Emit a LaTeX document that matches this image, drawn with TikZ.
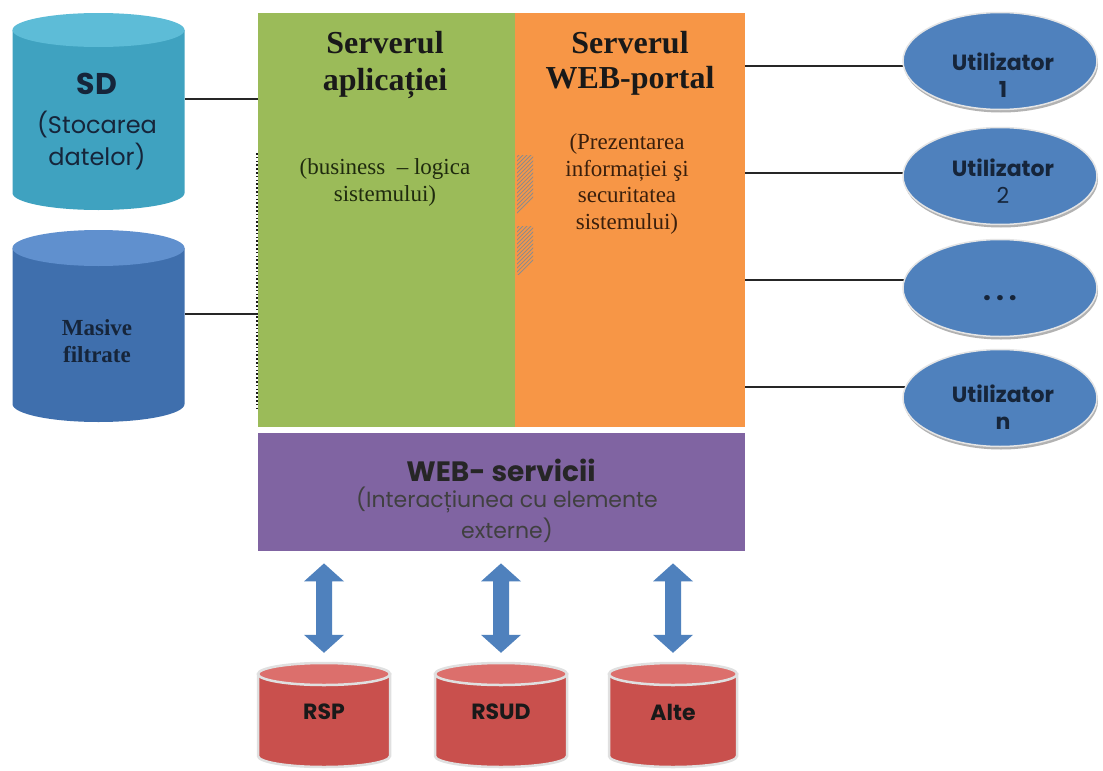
\documentclass[tikz,border=0pt]{standalone}
\usepackage{fontspec}
\setmainfont{Liberation Serif}
\newfontfamily\gothic{Poppins}
\usetikzlibrary{calc,fit,shapes.geometric,shadows}
\definecolor{appgreen}{HTML}{9BBB59}
\definecolor{weborange}{HTML}{F79646}
\definecolor{wspurple}{HTML}{8064A2}
\definecolor{ublue}{HTML}{4F81BD}
\definecolor{sdbody}{HTML}{3FA2C0}
\definecolor{sdtop}{HTML}{5DBCD7}
\definecolor{mfbody}{HTML}{3F6FAD}
\definecolor{mftop}{HTML}{6090CE}
\definecolor{redbody}{HTML}{C9504D}
\definecolor{redtop}{HTML}{DC6F6C}
\definecolor{navy}{HTML}{16253A}
\definecolor{brownt}{HTML}{3A1F0C}
\definecolor{olivet}{HTML}{1F2A0E}
\pgfdeclarelayer{bg}
\pgfdeclarelayer{wires}
\pgfsetlayers{bg,wires,main}
\newcommand{\dbcyl}[9]{%
  \path[fill=#7,#9] (#2-#5,#3) -- (#2-#5,#4) arc[start angle=180,end angle=360,x radius=#5,y radius=#6] -- (#2+#5,#3) -- cycle;
  \path[fill=#8,#9] (#2,#3) ellipse[x radius=#5,y radius=#6];
  \node[inner sep=0pt,fit={(#2-#5,#3+#6) (#2+#5,#4-#6)}] (#1) {};
}
\newcommand{\twoway}[2]{%
  \fill[ublue] let \p1=($(#1.south -| #2.north)+(0,-12)$), \p2=($(#2.north)+(0,10)$) in
    (\x1,\y1) -- ++(20,-18) -- ++(-12,0) -- (\x1+8,\y2+18) -- ++(12,0) -- (\x2,\y2)
    -- ++(-20,18) -- ++(12,0) -- (\x1-8,\y1-18) -- ++(-12,0) -- cycle;
}
\tikzset{
  panel/.style={rectangle, inner sep=0pt, anchor=north west},
  wire/.style={draw=black!85, line width=1.2pt},
  hatchline/.style={draw=black!45, line width=0.9pt},
  user/.style={ellipse, fill=ublue, draw=white!90!black, line width=1.5pt,
    minimum width=194pt, minimum height=97pt, inner sep=0pt,
    drop shadow={shadow xshift=1pt, shadow yshift=-3pt, fill=black!30, opacity=1}},
  sertitle/.style={font=\fontsize{32}{37}\selectfont\bfseries, align=center, inner sep=0pt},
  sersub/.style={font=\fontsize{23}{27}\selectfont, align=center, inner sep=0pt},
  gbold/.style={font=\gothic\fontsize{22}{27}\selectfont\bfseries, text=navy, align=center, inner sep=0pt},
  greg/.style={font=\gothic\fontsize{22}{31}\selectfont, text=navy, align=center, inner sep=0pt},
  rimmed/.style={draw=white!88!black, line width=2.5pt},
  plain/.style={draw=none}
}
\begin{document}
\begin{tikzpicture}[x=1pt,y=1pt]
\useasboundingbox (0,0) rectangle (1103,-771);
\begin{pgfonlayer}{bg}
\fill[white] (0,0) rectangle (1103,-771);
\end{pgfonlayer}

% main panels
\node[panel, fill=appgreen, minimum width=257pt, minimum height=414pt] (app) at (258,-13) {};
\node[panel, fill=weborange, minimum width=230pt, minimum height=414pt] (web) at (515,-13) {};
\node[panel, fill=wspurple, minimum width=487pt, minimum height=118pt] (ws) at (258,-433) {};

% dotted edge and hatch marks
\draw[black!90, line width=1.6pt, dash pattern=on 1.6pt off 2.2pt] ([xshift=-1pt]app.north west |- 0,-153) -- ([xshift=-1pt]app.south west |- 0,-408);
\begin{scope}
  \clip (517,-155) rectangle (533,-213);
  \foreach \k in {0,4,...,76} \draw[hatchline] (505,-225+\k) -- ++(35,35);
\end{scope}
\begin{scope}
  \clip (517,-226) rectangle (533,-274);
  \foreach \k in {0,4,...,68} \draw[hatchline] (505,-288+\k) -- ++(35,35);
\end{scope}

% panel texts
\node[sertitle, text=black!90] (apptitle) at (385,-65) {Serverul\\aplicației};
\node[sersub, text=olivet] (appsub) at (385,-182) {(business \ – logica\\sistemului)};
\node[sertitle, text=black!90, font=\fontsize{32}{35}\selectfont\bfseries] (webtitle) at (630,-63) {Serverul\\WEB-portal};
\node[sersub, text=brownt, font=\fontsize{23}{26.5}\selectfont] (websub) at (627,-184) {(Prezentarea\\informației şi\\securitatea\\sistemului)};
\node[gbold, font=\gothic\fontsize{28}{32}\selectfont\bfseries, text=black!85] (wstitle) at (501,-470) {WEB- servicii};
\node[greg, text=black!75] (wssub) at (507,-515) {(Interacțiunea cu elemente\\externe)};

% left databases
\dbcyl{sd}{98.5}{-30}{-193}{86}{17}{sdbody}{sdtop}{plain}
\dbcyl{mf}{98.5}{-248}{-404}{86}{18}{mfbody}{mftop}{plain}
\node[gbold, font=\gothic\fontsize{30}{30}\selectfont\bfseries] (sdt) at (97,-84) {SD};
\node[greg, font=\gothic\fontsize{24}{32}\selectfont] (sds) at (97,-141) {(Stocarea\\datelor)};
\node[sersub, font=\fontsize{23}{27}\selectfont\bfseries, text=navy] (mft) at (97,-341) {Masive\\filtrate};

% users
\node[user] (u1) at (1000,-61) {};
\node[user] (u2) at (1000,-176) {};
\node[user] (u3) at (1000,-288) {};
\node[user] (u4) at (1000,-398) {};
\node[gbold] (u1t) at (1003,-75) {Utilizator\\1};
\node[gbold] (u2t) at (1003,-181) {Utilizator\\{\mdseries 2}};
\node[gbold, font=\gothic\fontsize{28}{28}\selectfont\bfseries] (u3t) at (1000,-298) {.\hspace{5pt}.\hspace{5pt}.};
\node[gbold] (u4t) at (1003,-407) {Utilizator\\n};

% bottom databases
\dbcyl{rsp}{324}{-674}{-756}{66}{11}{redbody}{redtop}{rimmed}
\dbcyl{rsud}{501}{-674}{-756}{66}{11}{redbody}{redtop}{rimmed}
\dbcyl{alte}{673}{-674}{-756}{64}{11}{redbody}{redtop}{rimmed}
\node[gbold, text=black!90] (rspt) at (324,-712) {RSP};
\node[gbold, text=black!90] (rsudt) at (501,-712) {RSUD};
\node[gbold, text=black!90] (altet) at (673,-712) {Alte};

% connectors
\coordinate (ysd) at (0,-99);
\coordinate (ymf) at (0,-314);
\coordinate (y1) at (0,-66);
\coordinate (y2) at (0,-173);
\coordinate (y3) at (0,-280);
\coordinate (y4) at (0,-387);
\begin{pgfonlayer}{wires}
\draw[wire] (sd.east |- ysd) -- (app.west |- ysd);
\draw[wire] (mf.east |- ymf) -- (app.west |- ymf);
\draw[wire] (web.east |- y1) -- (u1.center |- y1);
\draw[wire] (web.east |- y2) -- (u2.center |- y2);
\draw[wire] (web.east |- y3) -- (u3.center |- y3);
\draw[wire] (web.east |- y4) -- (u4.center |- y4);
\end{pgfonlayer}

\twoway{ws}{rsp}
\twoway{ws}{rsud}
\twoway{ws}{alte}
\end{tikzpicture}
\end{document}
